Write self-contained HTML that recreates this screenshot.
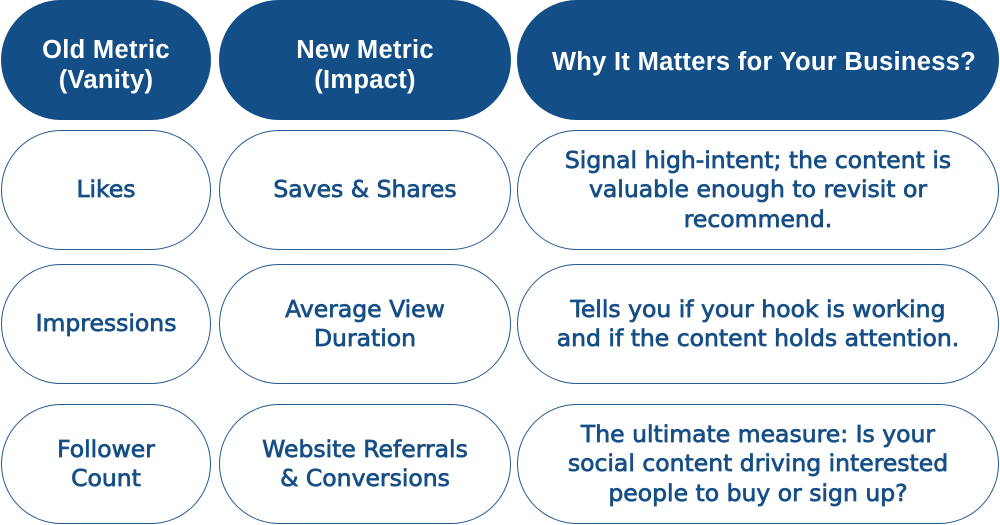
<!DOCTYPE html>
<html><head><meta charset="utf-8"><style>
html,body{margin:0;padding:0;background:#fff;width:1000px;height:525px;overflow:hidden;position:relative}
.b{position:absolute;box-sizing:border-box;border-radius:60px;display:flex;align-items:center;justify-content:center;text-align:center;white-space:nowrap}
.h{background:#134f86;color:#fff;font-family:"Liberation Sans",sans-serif;font-weight:bold;font-size:25.5px;line-height:30px;letter-spacing:0.3px}
.h span{padding-top:9px}
.h span.s{padding-top:4px;padding-left:12px}
.c{border:1.5px solid #255a92;background:#fff;color:#164f86;font-family:"DejaVu Sans",sans-serif;font-size:23.5px;line-height:29.5px;-webkit-text-stroke:0.75px #164f86}
.c1{left:1px;width:210px}
.c2{left:219px;width:292px}
.c3{left:517px;width:482px}
.r0{top:0;height:120px}
.r1{top:130px;height:120px}
.r2{top:264px;height:120px}
.r3{top:404px;height:120px}
</style></head><body>
<div class="b h c1 r0"><span>Old Metric<br>(Vanity)</span></div>
<div class="b h c2 r0"><span>New Metric<br>(Impact)</span></div>
<div class="b h c3 r0"><span class="s">Why It Matters for Your Business?</span></div>

<div class="b c c1 r1"><span>Likes</span></div>
<div class="b c c2 r1"><span>Saves &amp; Shares</span></div>
<div class="b c c3 r1"><span>Signal high-intent; the content is<br>valuable enough to revisit or<br>recommend.</span></div>

<div class="b c c1 r2"><span>Impressions</span></div>
<div class="b c c2 r2"><span>Average View<br>Duration</span></div>
<div class="b c c3 r2"><span>Tells you if your hook is working<br>and if the content holds attention.</span></div>

<div class="b c c1 r3"><span>Follower<br>Count</span></div>
<div class="b c c2 r3"><span>Website Referrals<br>&amp; Conversions</span></div>
<div class="b c c3 r3"><span>The ultimate measure: Is your<br>social content driving interested<br>people to buy or sign up?</span></div>
</body></html>
